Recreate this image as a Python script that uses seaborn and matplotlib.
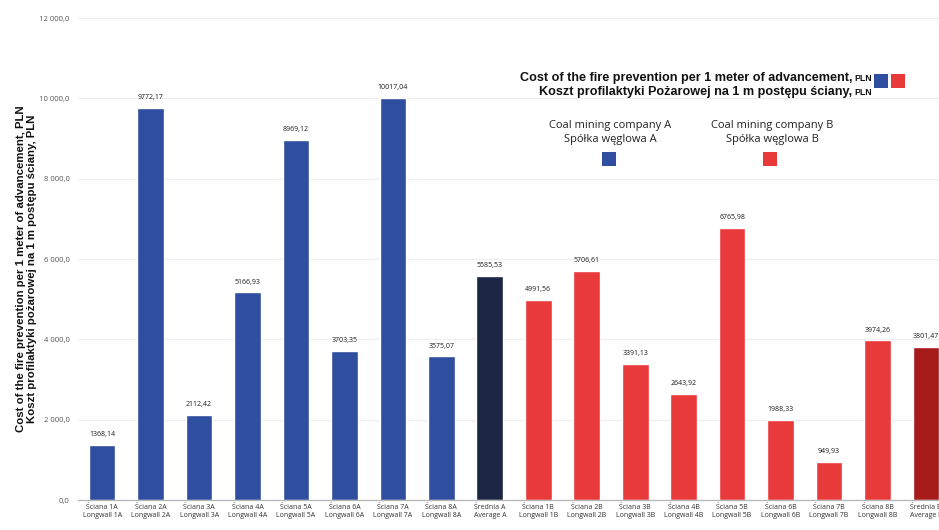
import matplotlib
matplotlib.use("Agg")
import matplotlib.pyplot as plt
from matplotlib.patches import Rectangle
from matplotlib.ticker import FuncFormatter
import seaborn as sns
import pandas as pd

# Longwall categories (Polish / English) and cost per 1 m of face advance, PLN
labels_pl = ["Ściana 1A", "Ściana 2A", "Ściana 3A", "Ściana 4A", "Ściana 5A", "Ściana 6A",
             "Ściana 7A", "Ściana 8A", "Średnia A",
             "Ściana 1B", "Ściana 2B", "Ściana 3B", "Ściana 4B", "Ściana 5B", "Ściana 6B",
             "Ściana 7B", "Ściana 8B", "Średnia B"]
labels_en = ["Longwall 1A", "Longwall 2A", "Longwall 3A", "Longwall 4A", "Longwall 5A", "Longwall 6A",
             "Longwall 7A", "Longwall 8A", "Average A",
             "Longwall 1B", "Longwall 2B", "Longwall 3B", "Longwall 4B", "Longwall 5B", "Longwall 6B",
             "Longwall 7B", "Longwall 8B", "Average B"]
cost = [1368.14, 9772.17, 2112.42, 5166.93, 8969.12, 3703.35, 10017.04, 3575.07, 5585.53,
        4991.56, 5706.61, 3391.13, 2643.92, 6765.98, 1988.33, 949.93, 3974.26, 3801.47]
group = ["A"] * 8 + ["avgA"] + ["B"] * 8 + ["avgB"]

colors = {"A": "#2F4E9F", "avgA": "#1B2544", "B": "#E83A3A", "avgB": "#A81B1B"}

df = pd.DataFrame({
    "category": [f"{p}\n{e}" for p, e in zip(labels_pl, labels_en)],
    "cost": cost,
    "group": group,
})

sns.set_theme(style="white")
plt.rcParams["font.family"] = ["Open Sans", "DejaVu Sans"]

W, H = 939, 530
fig = plt.figure(figsize=(W / 100, H / 100), dpi=100)
ax = fig.add_axes([0.083, 0.0566, 0.917, 0.9094])

sns.barplot(data=df, x="category", y="cost", hue="group", palette=colors,
            dodge=False, width=0.55, legend=False, ax=ax, saturation=1)

ax.set_ylim(0, 12000)
ax.set_xlim(-0.5, 17.27)
ax.set_yticks(range(0, 12001, 2000))
ax.yaxis.set_major_formatter(FuncFormatter(
    lambda v, _: f"{v:,.1f}".replace(",", " ").replace(".", ",")))
ax.grid(axis="y", color="#EDEDED", linewidth=0.8)
ax.set_axisbelow(True)
for side in ["top", "right", "left"]:
    ax.spines[side].set_visible(False)
ax.spines["bottom"].set_color("#B5B5B5")
ax.spines["bottom"].set_linewidth(0.9)
ax.tick_params(axis="y", labelsize=5.5, colors="#555555", length=0, pad=6)
ax.tick_params(axis="x", labelsize=5.0, colors="#333333", length=0, pad=3)
ax.set_xlabel("")
ax.set_ylabel("Cost of the fire prevention per 1 meter of advancement, PLN\n"
              "Koszt profilaktyki pożarowej na 1 m postępu ściany, PLN",
              fontsize=8.2, fontweight="bold", family=["Liberation Sans", "DejaVu Sans"],
              labelpad=0, color="#111111", linespacing=1.15)
ax.yaxis.set_label_coords(-0.047, 0.48)

# value labels above bars
for i, v in enumerate(cost):
    ax.text(i, v + 170, f"{v:.2f}".replace(".", ","), ha="center", va="bottom",
            fontsize=5.0, color="#1A1A1A")

# legend-like annotations
bold = dict(fontsize=9.1, fontweight="bold", family=["Liberation Sans", "DejaVu Sans"],
            color="#111111")
small_bold = dict(fontsize=6.3, fontweight="bold", family=["Liberation Sans", "DejaVu Sans"],
                  color="#111111")
fig.text(852 / W, 1 - 81 / H, "Cost of the fire prevention per 1 meter of advancement,",
         ha="right", va="baseline", **bold)
fig.text(854 / W, 1 - 81 / H, "PLN", ha="left", va="baseline", **small_bold)
fig.text(852 / W, 1 - 95 / H, "Koszt profilaktyki Pożarowej na 1 m postępu ściany,",
         ha="right", va="baseline", **bold)
fig.text(854 / W, 1 - 95 / H, "PLN", ha="left", va="baseline", **small_bold)


def square(xc, yc, color, size=14):
    fig.patches.append(Rectangle(((xc - size / 2) / W, 1 - (yc + size / 2) / H),
                                 size / W, size / H, transform=fig.transFigure,
                                 facecolor=color, edgecolor="none"))


square(881, 81, colors["A"])
square(898, 81, colors["B"])

company = dict(ha="center", va="center", fontsize=8, color="#222222")
fig.text(610 / W, 1 - 125 / H, "Coal mining company A", **company)
fig.text(610 / W, 1 - 140 / H, "Spółka węglowa A", **company)
fig.text(772 / W, 1 - 125 / H, "Coal mining company B", **company)
fig.text(772 / W, 1 - 140 / H, "Spółka węglowa B", **company)
square(609, 159, colors["A"])
square(770, 159, colors["B"])

fig.savefig("out.png", dpi=100)
